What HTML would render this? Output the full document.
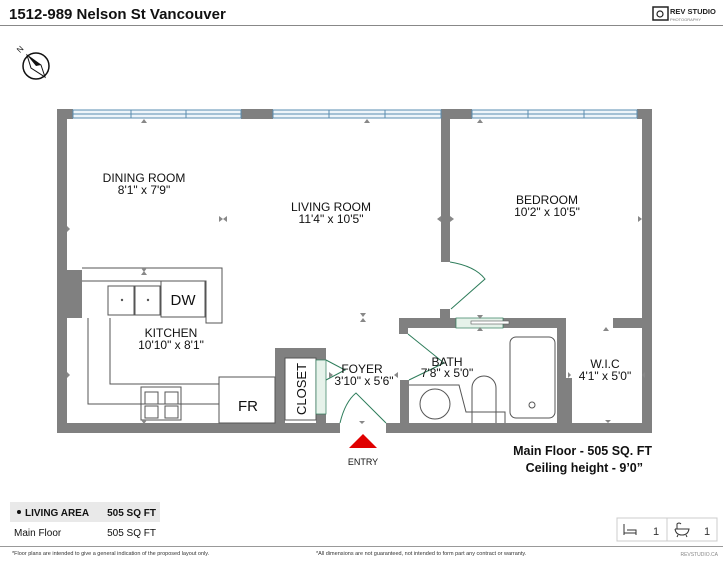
<!DOCTYPE html>
<html><head><style>
body{margin:0;background:#fff;width:723px;height:560px;overflow:hidden;font-family:"Liberation Sans",Arial,sans-serif}
</style></head><body>
<svg width="723" height="560" viewBox="0 0 723 560" xmlns="http://www.w3.org/2000/svg" font-family="Liberation Sans, Arial, sans-serif">
<text x="9" y="19" font-size="15" font-weight="bold" fill="#111">1512-989 Nelson St Vancouver</text>
<line x1="0" y1="25.5" x2="723" y2="25.5" stroke="#888" stroke-width="1"/>
<!-- logo -->
<rect x="653" y="7" width="15" height="13" fill="none" stroke="#222" stroke-width="1.5"/>
<circle cx="660" cy="14" r="3" fill="none" stroke="#222" stroke-width="1.2"/>
<text x="670" y="14" font-size="7.5" font-weight="bold" fill="#222">REV STUDIO</text>
<text x="670" y="21" font-size="4" fill="#777">PHOTOGRAPHY</text>
<!-- compass -->
<circle cx="36" cy="66" r="13" fill="none" stroke="#111" stroke-width="1.5"/>
<polygon points="27,55 31,68 45,77 41,65" fill="none" stroke="#111" stroke-width="1"/>
<polygon points="27,55 36,66 41,65" fill="#111"/>
<text x="17" y="52" font-size="8" fill="#111" transform="rotate(-45 20 49)">N</text>

<g fill="#808080">
<!-- top wall -->
<rect x="57" y="109" width="16" height="10"/>
<rect x="241" y="109" width="32" height="10"/>
<rect x="441" y="109" width="31" height="10"/>
<rect x="637" y="109" width="15" height="10"/>
<!-- left wall -->
<rect x="57" y="109" width="10" height="324"/>
<rect x="67" y="270" width="15" height="48"/>
<!-- right wall -->
<rect x="642" y="109" width="10" height="324"/>
<!-- bottom wall -->
<rect x="57" y="423" width="283" height="10"/>
<rect x="386" y="423" width="266" height="10"/>
<!-- bedroom wall -->
<rect x="441" y="109" width="9" height="153"/>
<rect x="440" y="309" width="10" height="15"/>
<!-- bath top -->
<rect x="399" y="318" width="57" height="10"/>
<rect x="503" y="318" width="63" height="10"/>
<rect x="399" y="318" width="9" height="16"/>
<rect x="400" y="380" width="9" height="45"/>
<rect x="557" y="318" width="9" height="105"/>
<rect x="566" y="378" width="6" height="45"/>
<rect x="613" y="318" width="30" height="10"/>
<!-- closet -->
<rect x="275" y="348" width="51" height="10"/>
<rect x="275" y="348" width="10" height="76"/>
<rect x="316" y="348" width="10" height="12"/>
<rect x="316" y="414" width="10" height="10"/>
</g>
<!-- windows -->
<g fill="#eef5fa" stroke="#5a8db0" stroke-width="1">
<rect x="73" y="110" width="168" height="8"/>
<rect x="273" y="110" width="168" height="8"/>
<rect x="472" y="110" width="165" height="8"/>
</g>
<g stroke="#5a8db0" stroke-width="1">
<line x1="73" y1="114" x2="241" y2="114"/><line x1="273" y1="114" x2="441" y2="114"/><line x1="472" y1="114" x2="637" y2="114"/>
<line x1="131" y1="110" x2="131" y2="118"/><line x1="186" y1="110" x2="186" y2="118"/>
<line x1="329" y1="110" x2="329" y2="118"/><line x1="385" y1="110" x2="385" y2="118"/>
<line x1="528" y1="110" x2="528" y2="118"/><line x1="584" y1="110" x2="584" y2="118"/>
</g>
<!-- kitchen -->
<g fill="none" stroke="#555" stroke-width="1">
<path d="M82 268 H222 V323 H206 V281 H82"/>
<path d="M88 318 V404 H219"/>
<path d="M110 318 V384 H219"/>
<rect x="108" y="286" width="26" height="29"/><rect x="135" y="286" width="25" height="29"/>
<rect x="161" y="281" width="44" height="36"/>
<rect x="141" y="387" width="40" height="33"/>
<rect x="145" y="392" width="13" height="12"/><rect x="165" y="392" width="13" height="12"/>
<rect x="145" y="406" width="13" height="12"/><rect x="165" y="406" width="13" height="12"/>
<rect x="219" y="377" width="56" height="46"/>
<rect x="285" y="358" width="31" height="62"/>
<!-- bath fixtures -->
<path d="M409 385 H459 L466 412 H505 V423"/>
<circle cx="435" cy="404" r="15"/>
<path d="M472 423 V388 A12 12 0 0 1 496 388 V423"/>
<rect x="510" y="337" width="45" height="81" rx="6"/>
<circle cx="532" cy="405" r="3"/>
</g>
<circle cx="122" cy="300" r="1.2" fill="#555"/><circle cx="148" cy="300" r="1.2" fill="#555"/>
<!-- doors -->
<g fill="none" stroke="#2e7d5b" stroke-width="1">
<path d="M450 262 Q475 266 485 279 L451 309"/>
<path d="M408 334 L444 363 L409 380"/>
<path d="M340 423 Q345 402 356 393 L386 423"/>
<path d="M326 360 L345 370 L326 380"/>
</g>
<rect x="456" y="318" width="47" height="10" fill="#e6f2ea" stroke="#2e7d5b" stroke-width="0.7"/>
<rect x="471" y="321" width="38" height="3" fill="#fff" stroke="#555" stroke-width="0.6"/>
<rect x="316" y="360" width="10" height="54" fill="#e6f2ea" stroke="#2e7d5b" stroke-width="0.7"/>
<!-- dimension markers -->
<g fill="#888">
<polygon points="141,123 147,123 144,119"/><polygon points="364,123 370,123 367,119"/><polygon points="477,123 483,123 480,119"/>
<polygon points="67,126 67,132 70,129" transform="translate(0,100)"/>
<polygon points="219,216 223,219 219,222"/><polygon points="227,216 223,219 227,222"/>
<polygon points="441,216 437,219 441,222"/><polygon points="450,216 454,219 450,222"/>
<polygon points="638,216 642,219 638,222"/>
<polygon points="141,268 147,268 144,272"/><polygon points="141,275 147,275 144,271"/>
<polygon points="360,313 366,313 363,317"/><polygon points="360,322 366,322 363,318"/>
<polygon points="67,372 70,375 67,378"/>
<polygon points="141,420 147,420 144,424"/>
<polygon points="359,421 365,421 362,424"/>
<polygon points="329,372 333,375 329,378"/><polygon points="398,372 394,375 398,378"/>
<polygon points="603,331 609,331 606,327"/>
<polygon points="568,372 571,375 568,378"/><polygon points="645,372 642,375 645,378"/>
<polygon points="605,420 611,420 608,423"/>
<polygon points="477,315 483,315 480,319"/><polygon points="477,331 483,331 480,327"/>
</g>
<!-- labels -->
<g font-size="12" fill="#111" text-anchor="middle">
<text x="144" y="182">DINING ROOM</text><text x="144" y="194">8'1" x 7'9"</text>
<text x="331" y="211">LIVING ROOM</text><text x="331" y="223">11'4" x 10'5"</text>
<text x="547" y="204">BEDROOM</text><text x="547" y="216">10'2" x 10'5"</text>
<text x="171" y="337">KITCHEN</text><text x="171" y="349">10'10" x 8'1"</text>
<text x="362" y="373">FOYER</text><text x="364" y="385">3'10" x 5'6"</text>
<text x="447" y="366">BATH</text><text x="447" y="377">7'8" x 5'0"</text>
<text x="605" y="368">W.I.C</text><text x="605" y="380">4'1" x 5'0"</text>
<text x="183" y="305" font-size="15">DW</text>
<text x="248" y="411" font-size="15">FR</text>
<text x="0" y="0" font-size="13" transform="translate(306 389) rotate(-90)">CLOSET</text>
</g>
<polygon points="349,448 377,448 363,434" fill="#e00000"/>
<text x="363" y="465" font-size="9" text-anchor="middle" fill="#111">ENTRY</text>
<text x="652" y="455" font-size="12.5" font-weight="bold" text-anchor="end" fill="#111">Main Floor - 505 SQ. FT</text>
<text x="643" y="472" font-size="12.5" font-weight="bold" text-anchor="end" fill="#111">Ceiling height - 9’0”</text>
<!-- table -->
<rect x="10" y="502" width="150" height="20" fill="#e9e9e9"/>
<circle cx="19" cy="512" r="2" fill="#111"/>
<text x="25" y="516" font-size="10" font-weight="bold" fill="#111">LIVING AREA</text>
<text x="156" y="516" font-size="10" font-weight="bold" text-anchor="end" fill="#111">505 SQ FT</text>
<text x="14" y="536" font-size="10" fill="#111">Main Floor</text>
<text x="156" y="536" font-size="10" text-anchor="end" fill="#111">505 SQ FT</text>
<line x1="0" y1="546.5" x2="723" y2="546.5" stroke="#999"/>
<text x="12" y="555" font-size="5.5" fill="#333">*Floor plans are intended to give a general indication of the proposed layout only.</text>
<text x="316" y="555" font-size="5.5" fill="#333">*All dimensions are not guaranteed, not intended to form part any contract or warranty.</text>
<text x="718" y="556" font-size="5" fill="#888" text-anchor="end">REVSTUDIO.CA</text>
<!-- icons box -->
<rect x="617" y="518" width="100" height="23" fill="#fff" stroke="#ccc"/>
<line x1="667" y1="518" x2="667" y2="541" stroke="#ccc"/>
<path d="M624 524 V535 M624 533 H636 V535 M627 530 H636 V533" fill="none" stroke="#333" stroke-width="1"/>
<text x="653" y="535" font-size="11" fill="#333">1</text>
<path d="M675 529 H689 Q688 535 682 535 Q676 535 675 529 M678 535 L677 537 M686 535 L687 537 M677 529 V524 Q679 522 681 524" fill="none" stroke="#333" stroke-width="1"/>
<text x="704" y="535" font-size="11" fill="#333">1</text>
</svg>
</body></html>
